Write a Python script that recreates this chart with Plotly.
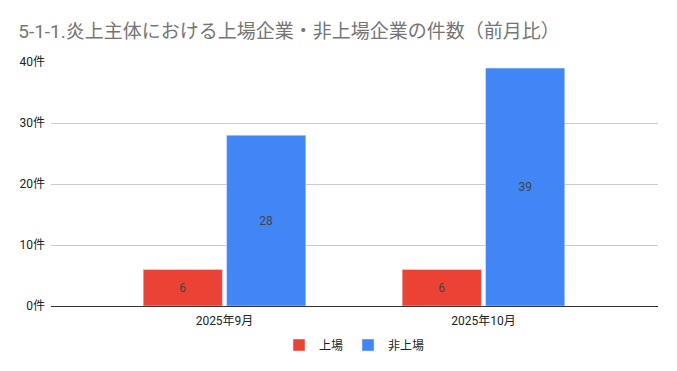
import plotly.graph_objects as go

categories = ["2025年9月", "2025年10月"]
listed = [6, 6]
unlisted = [28, 39]
series_names = ["上場", "非上場"]
tick_vals = [0, 10, 20, 30, 40]
tick_text = ["0件", "10件", "20件", "30件", "40件"]

font = "Roboto, 'Noto Sans CJK JP', sans-serif"

fig = go.Figure()
fig.add_trace(go.Bar(x=categories, y=listed, name=series_names[0], marker_color="#EA4335",
                     text=listed, textposition="inside", insidetextanchor="middle",
                     textfont=dict(color="#444444", size=12, family=font)))
fig.add_trace(go.Bar(x=categories, y=unlisted, name=series_names[1], marker_color="#4285F4",
                     text=unlisted, textposition="inside", insidetextanchor="middle",
                     textfont=dict(color="#444444", size=12, family=font)))

fig.update_layout(
    width=677, height=371,
    margin=dict(l=51, r=19, t=62, b=65, autoexpand=False),
    paper_bgcolor="white", plot_bgcolor="white",
    barmode="group", bargap=0.356, bargroupgap=0.05,
    title=dict(text="5-1-1.炎上主体における上場企業・非上場企業の件数（前月比）",
               x=0.027, xanchor="left", y=0.915, yanchor="middle",
               font=dict(size=19, color="#757575", family=font)),
    font=dict(family=font, color="#444444", size=12),
    legend=dict(orientation="h", x=0.5, xanchor="center", y=-0.16, yanchor="middle",
                font=dict(size=12, color="#222222")),
    xaxis=dict(type="category", range=[-0.67, 1.674], showgrid=False, automargin=False,
               tickfont=dict(size=12, color="#222222"), ticks="", ticklabelstandoff=6),
    yaxis=dict(range=[0, 40], tickvals=tick_vals, ticktext=tick_text, automargin=False,
               gridcolor="#CCCCCC", zeroline=True, zerolinecolor="#333333", zerolinewidth=1,
               tickfont=dict(size=12, color="#222222"), ticks="", ticklabelstandoff=5),
    showlegend=True,
)

fig.write_html("out.html")
